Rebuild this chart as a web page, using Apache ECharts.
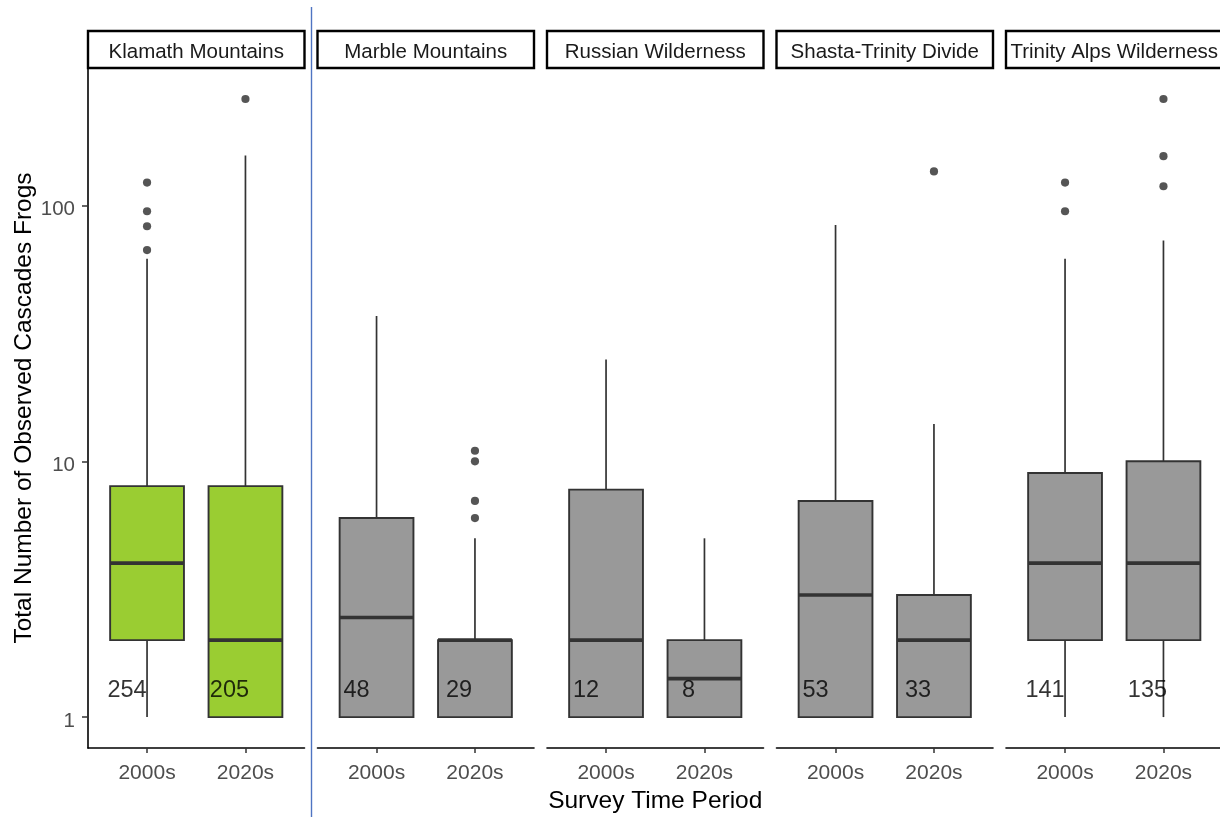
<!DOCTYPE html>
<html>
<head>
<meta charset="utf-8">
<script src="https://cdn.jsdelivr.net/npm/echarts@6/dist/echarts.min.js"></script>
<style>
  html, body { margin: 0; padding: 0; background: #ffffff; }
  #chart { width: 1220px; height: 817px; }
</style>
</head>
<body>
<div id="chart"></div>
<script>
// Survey regions (facets) and survey periods (x categories)
const regions = ['Klamath Mountains', 'Marble Mountains', 'Russian Wilderness', 'Shasta-Trinity Divide', 'Trinity Alps Wilderness'];
const periods = ['2000s', '2020s'];
const highlightedRegion = 'Klamath Mountains';

// Box statistics per region: [lower whisker, Q1, median, Q3, upper whisker]
const stats2000s = [
  [1, 2, 4, 8, 62],
  [1, 1, 2.45, 6, 37],
  [1, 1, 2, 7.75, 25],
  [1, 1, 3, 7, 84],
  [1, 2, 4, 9, 62]
];
const stats2020s = [
  [1, 1, 2, 8, 157],
  [1, 1, 2, 2, 5],
  [1, 1, 1.414, 2, 5],
  [1, 1, 2, 3, 14],
  [1, 2, 4, 10, 73]
];

// Outlying survey totals per region
const outliers2000s = [[123, 95, 83, 67], [], [], [], [123, 95]];
const outliers2020s = [[261], [11, 10, 7, 6], [], [136], [261, 156, 119]];

// Number of surveys per region and period
const counts2000s = [254, 48, 12, 53, 141];
const counts2020s = [205, 29, 8, 33, 135];

// Log-scale tick values
const yTicks = [1, 10, 100];

// ---- layout & style ----
const FONT = '"Liberation Sans", Arial, sans-serif';
const PANEL_LEFT = 88, PANEL_STEP = 229.5, PANEL_WIDTH = 216.5;
const PANEL_TOP = 68, PANEL_HEIGHT = 680;
const STRIP_TOP = 31, STRIP_HEIGHT = 37;
const Y_MIN = 0.757, Y_MAX = 345;
const X_MIN = 0.4, X_MAX = 2.6, BOX_WIDTH = 0.75;
const COUNT_LABEL_AT = 1.27;
const EDGE = '#333333';
const GREEN = '#9acd32', GREY = '#999999';

function boxRenderer(fill) {
  return function (params, api) {
    const x = api.value(0);
    const lo = api.coord([x, api.value(1)]);
    const q1 = api.coord([x, api.value(2)]);
    const med = api.coord([x, api.value(3)]);
    const q3 = api.coord([x, api.value(4)]);
    const hi = api.coord([x, api.value(5)]);
    const half = api.size([BOX_WIDTH, 0])[0] / 2;
    const cx = q1[0];
    const children = [];
    if (hi[1] < q3[1]) {
      children.push({ type: 'line', shape: { x1: cx, y1: q3[1], x2: cx, y2: hi[1] },
        style: { stroke: EDGE, lineWidth: 1.7 } });
    }
    if (lo[1] > q1[1]) {
      children.push({ type: 'line', shape: { x1: cx, y1: q1[1], x2: cx, y2: lo[1] },
        style: { stroke: EDGE, lineWidth: 1.7 } });
    }
    children.push({ type: 'rect', shape: { x: cx - half, y: q3[1], width: half * 2, height: q1[1] - q3[1] },
      style: { fill: fill, stroke: EDGE, lineWidth: 1.9 } });
    children.push({ type: 'line', shape: { x1: cx - half, y1: med[1], x2: cx + half, y2: med[1] },
      style: { stroke: EDGE, lineWidth: 3.6 } });
    return { type: 'group', children: children };
  };
}

const grids = [], xAxes = [], yAxes = [], series = [], graphics = [];

regions.forEach(function (region, i) {
  const left = PANEL_LEFT + i * PANEL_STEP;
  grids.push({ left: left, top: PANEL_TOP, width: PANEL_WIDTH, height: PANEL_HEIGHT,
    containLabel: false, outerBoundsMode: 'none' });

  xAxes.push({
    gridIndex: i, type: 'value', min: X_MIN, max: X_MAX,
    splitLine: { show: false },
    axisLine: { show: true, onZero: false, lineStyle: { color: '#000000', width: 1.6 } },
    axisTick: { show: true, customValues: [1, 2], length: 5, lineStyle: { color: EDGE, width: 1.5 } },
    axisLabel: { customValues: [1, 2], formatter: function (v) { return periods[Math.round(v) - 1]; },
      color: '#4d4d4d', fontSize: 21, fontFamily: FONT, margin: 15 },
    name: i === 2 ? 'Survey Time Period' : '',
    nameLocation: 'middle', nameGap: 37,
    nameTextStyle: { color: '#000000', fontSize: 24.5, fontFamily: FONT }
  });

  yAxes.push({
    gridIndex: i, type: 'log', logBase: 10, min: Y_MIN, max: Y_MAX,
    show: i === 0,
    splitLine: { show: false },
    axisLine: { show: true, lineStyle: { color: '#000000', width: 1.6 } },
    axisTick: { show: true, customValues: yTicks, length: 6, lineStyle: { color: EDGE, width: 1.5 } },
    axisLabel: { customValues: yTicks, margin: 13,
      formatter: function (v) { return '{t|' + v + '}'; },
      rich: { t: { color: '#4d4d4d', fontSize: 20.5, fontFamily: FONT, padding: [8, 0, 0, 0] } } },
    name: i === 0 ? 'Total Number of Observed Cascades Frogs' : '',
    nameLocation: 'middle', nameGap: 49, nameRotate: 90,
    nameTextStyle: { color: '#000000', fontSize: 24.5, fontFamily: FONT }
  });

  const fill = region === highlightedRegion ? GREEN : GREY;
  series.push({
    type: 'custom', xAxisIndex: i, yAxisIndex: i, silent: true,
    renderItem: boxRenderer(fill),
    encode: { x: 0, y: [1, 2, 3, 4, 5] },
    data: [[1].concat(stats2000s[i]), [2].concat(stats2020s[i])]
  });

  const pts = outliers2000s[i].map(function (v) { return [1, v]; })
    .concat(outliers2020s[i].map(function (v) { return [2, v]; }));
  series.push({
    type: 'scatter', xAxisIndex: i, yAxisIndex: i, silent: true,
    symbol: 'circle', symbolSize: 8.2,
    itemStyle: { color: '#2b2b2b' },
    data: pts
  });

  [counts2000s[i], counts2020s[i]].forEach(function (n, k) {
    series.push({
      type: 'scatter', xAxisIndex: i, yAxisIndex: i, silent: true,
      symbolSize: 0.01, itemStyle: { color: 'transparent' },
      label: { show: true, position: 'inside', offset: [k === 0 ? -20 : -16, 0],
        formatter: String(n), color: '#000000', fontSize: 23.5, fontFamily: FONT },
      data: [[k + 1, COUNT_LABEL_AT]]
    });
  });

  // facet strip
  graphics.push({
    type: 'rect', shape: { x: left, y: STRIP_TOP, width: PANEL_WIDTH, height: STRIP_HEIGHT },
    style: { fill: '#ffffff', stroke: '#000000', lineWidth: 2.4 }, z: 10
  });
  graphics.push({
    type: 'text', x: left + PANEL_WIDTH / 2, y: STRIP_TOP + STRIP_HEIGHT / 2 + 2.5,
    style: { text: region, fill: '#1a1a1a', fontSize: 20.5, fontFamily: FONT, align: 'center', verticalAlign: 'middle' },
    z: 11
  });
});

// divider between the highlighted region and the rest
graphics.push({
  type: 'line', shape: { x1: 311.5, y1: 7, x2: 311.5, y2: 817 },
  style: { stroke: '#4f74c2', lineWidth: 1.4 }, z: 12
});

const chart = echarts.init(document.getElementById('chart'), null, { renderer: 'canvas' });
chart.setOption({
  backgroundColor: '#ffffff',
  animation: false,
  grid: grids,
  xAxis: xAxes,
  yAxis: yAxes,
  series: series,
  graphic: graphics
});
</script>
</body>
</html>
